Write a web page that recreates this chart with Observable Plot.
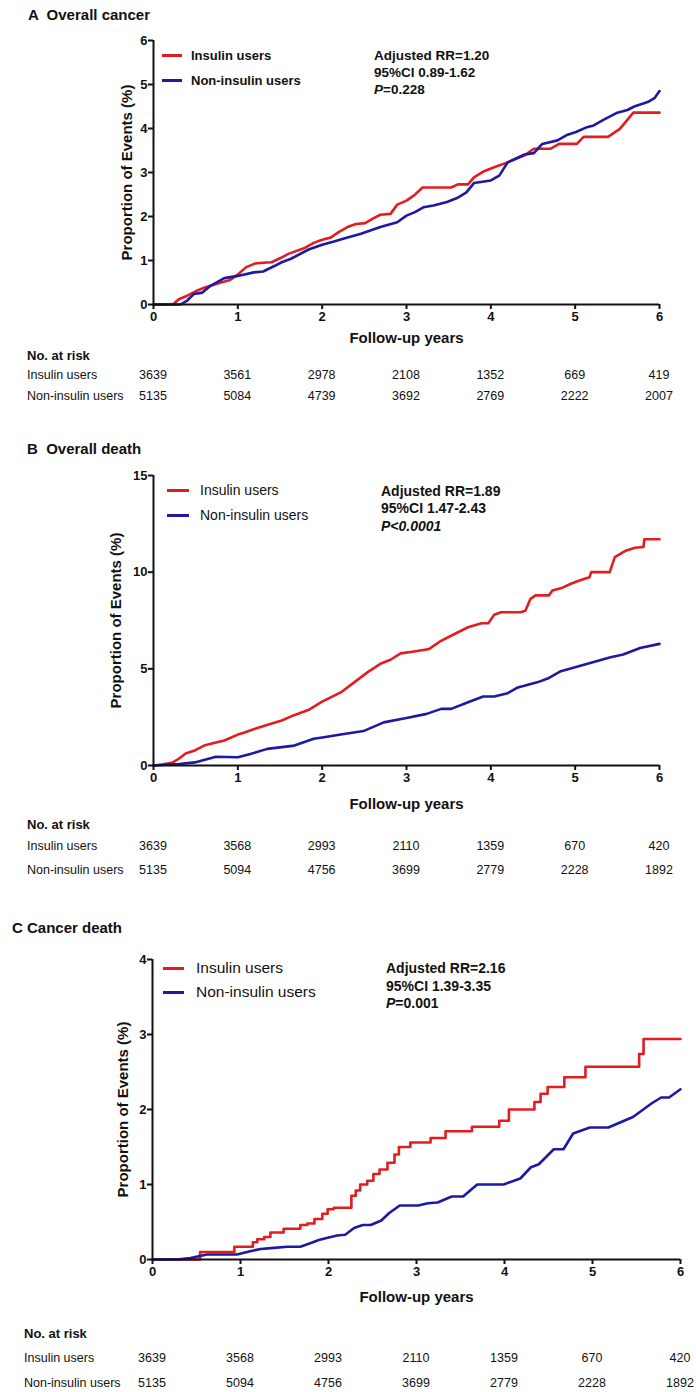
<!DOCTYPE html>
<html><head><meta charset="utf-8">
<script src="https://cdn.jsdelivr.net/npm/d3@7"></script>
<script src="https://cdn.jsdelivr.net/npm/@observablehq/plot@0.6"></script>
<style>
html,body{margin:0;padding:0;background:#fff;overflow:hidden}
#root{position:relative;width:696px;height:1392px;font-family:"Liberation Sans",Arial,sans-serif;color:#111}
.abs{position:absolute;white-space:pre;line-height:1;transform:translateY(-50%)}
.ctr{transform:translate(-50%,-50%)}
.sw{position:absolute;height:3px}
svg g[aria-label="x-axis label"], svg g[aria-label="y-axis label"]{font-size:15px;font-weight:bold}
</style>
</head><body><div id="root"></div>
<script>
// ---------- data ----------
const years = [0, 1, 2, 3, 4, 5, 6];
const groups = ["Insulin users", "Non-insulin users"];
const colors = ["#e31d1f", "#1c1aa3"];

// Panel A: overall cancer (year, %)
const aInsulin = [[0,0],[0.23,0],[0.3,0.12],[0.4,0.2],[0.5,0.3],[0.6,0.38],[0.8,0.5],[0.9,0.55],[1.0,0.68],[1.1,0.85],[1.2,0.93],[1.3,0.95],[1.4,0.96],[1.5,1.05],[1.6,1.15],[1.8,1.29],[1.9,1.4],[2.0,1.47],[2.1,1.52],[2.2,1.65],[2.3,1.76],[2.4,1.83],[2.51,1.85],[2.6,1.95],[2.69,2.04],[2.81,2.06],[2.89,2.27],[3.0,2.36],[3.09,2.48],[3.19,2.66],[3.53,2.66],[3.61,2.73],[3.73,2.73],[3.8,2.89],[3.92,3.03],[4.04,3.12],[4.2,3.23],[4.4,3.39],[4.51,3.54],[4.71,3.54],[4.81,3.65],[5.02,3.65],[5.1,3.81],[5.39,3.81],[5.53,3.99],[5.69,4.36],[6.0,4.36]];
const aNonInsulin = [[0,0],[0.32,0],[0.4,0.09],[0.48,0.24],[0.58,0.27],[0.68,0.43],[0.84,0.6],[1.0,0.65],[1.19,0.73],[1.3,0.75],[1.44,0.88],[1.52,0.96],[1.63,1.04],[1.84,1.25],[2.0,1.36],[2.14,1.43],[2.26,1.5],[2.46,1.61],[2.69,1.76],[2.89,1.87],[3.0,2.02],[3.1,2.1],[3.2,2.21],[3.32,2.25],[3.48,2.33],[3.6,2.42],[3.71,2.55],[3.8,2.76],[4.0,2.82],[4.1,2.93],[4.2,3.23],[4.4,3.41],[4.51,3.44],[4.61,3.65],[4.79,3.73],[4.91,3.86],[5.01,3.92],[5.14,4.03],[5.22,4.07],[5.34,4.2],[5.5,4.36],[5.62,4.42],[5.7,4.5],[5.86,4.6],[5.94,4.69],[6.0,4.85]];

// Panel B: overall death
const bInsulin = [[0,0],[0.1,0.05],[0.23,0.16],[0.3,0.35],[0.38,0.62],[0.49,0.78],[0.6,1.03],[0.74,1.19],[0.84,1.29],[1.0,1.6],[1.08,1.71],[1.25,1.97],[1.52,2.33],[1.66,2.59],[1.85,2.9],[2.0,3.3],[2.22,3.78],[2.38,4.3],[2.54,4.83],[2.69,5.26],[2.81,5.47],[2.93,5.8],[3.09,5.9],[3.27,6.03],[3.41,6.45],[3.57,6.8],[3.73,7.15],[3.89,7.36],[3.97,7.36],[4.04,7.8],[4.12,7.93],[4.35,7.93],[4.41,8.0],[4.47,8.62],[4.53,8.8],[4.69,8.8],[4.73,9.05],[4.85,9.2],[4.95,9.4],[5.05,9.57],[5.17,9.74],[5.19,10.0],[5.41,10.0],[5.47,10.78],[5.59,11.09],[5.71,11.26],[5.81,11.3],[5.82,11.7],[6.0,11.7]];
const bNonInsulin = [[0,0],[0.3,0.08],[0.49,0.16],[0.74,0.45],[1.0,0.43],[1.15,0.6],[1.35,0.86],[1.67,1.03],[1.9,1.38],[2.02,1.46],[2.22,1.6],[2.49,1.78],[2.73,2.23],[3.0,2.46],[3.24,2.67],[3.41,2.93],[3.53,2.93],[3.73,3.27],[3.91,3.57],[4.04,3.57],[4.2,3.74],[4.31,4.02],[4.55,4.3],[4.69,4.53],[4.83,4.88],[5.01,5.09],[5.22,5.35],[5.42,5.6],[5.57,5.74],[5.77,6.08],[6.0,6.29]];

// Panel C: cancer death
const cInsulin = [[0,0],[0.54,0.1],[0.93,0.17],[1.14,0.23],[1.19,0.27],[1.27,0.3],[1.34,0.36],[1.49,0.41],[1.68,0.46],[1.76,0.48],[1.84,0.54],[1.93,0.61],[1.99,0.67],[2.06,0.69],[2.26,0.85],[2.31,0.92],[2.36,1.0],[2.44,1.05],[2.51,1.14],[2.58,1.2],[2.67,1.29],[2.75,1.4],[2.8,1.5],[2.93,1.56],[3.16,1.62],[3.33,1.71],[3.63,1.77],[3.94,1.85],[4.05,2.0],[4.34,2.1],[4.41,2.21],[4.49,2.3],[4.68,2.43],[4.92,2.57],[5.53,2.74],[5.58,2.94],[6.0,2.94]];
const cNonInsulin = [[0,0],[0.28,0],[0.43,0.02],[0.62,0.066],[0.96,0.066],[1.11,0.11],[1.23,0.14],[1.38,0.155],[1.53,0.17],[1.68,0.17],[1.8,0.22],[1.89,0.26],[1.99,0.29],[2.1,0.32],[2.19,0.33],[2.29,0.42],[2.39,0.46],[2.48,0.46],[2.6,0.52],[2.69,0.62],[2.81,0.72],[3.02,0.72],[3.13,0.75],[3.24,0.76],[3.4,0.84],[3.53,0.84],[3.69,1.0],[3.99,1.0],[4.18,1.08],[4.3,1.23],[4.39,1.27],[4.56,1.47],[4.67,1.47],[4.78,1.68],[4.97,1.76],[5.18,1.76],[5.46,1.9],[5.67,2.08],[5.78,2.16],[5.87,2.16],[6.0,2.27]];

// Numbers at risk
const riskAInsulin = [3639, 3561, 2978, 2108, 1352, 669, 419];
const riskANonInsulin = [5135, 5084, 4739, 3692, 2769, 2222, 2007];
const riskBInsulin = [3639, 3568, 2993, 2110, 1359, 670, 420];
const riskBNonInsulin = [5135, 5094, 4756, 3699, 2779, 2228, 1892];
const riskCInsulin = [3639, 3568, 2993, 2110, 1359, 670, 420];
const riskCNonInsulin = [5135, 5094, 4756, 3699, 2779, 2228, 1892];

const titles = ["A  Overall cancer", "B  Overall death", "C Cancer death"];
const yTicksA = [0, 1, 2, 3, 4, 5, 6];
const yTicksB = [0, 5, 10, 15];
const yTicksC = [0, 1, 2, 3, 4];
const statsRR = ["Adjusted RR=1.20", "Adjusted RR=1.89", "Adjusted RR=2.16"];
const statsCI = ["95%CI 0.89-1.62", "95%CI 1.47-2.43", "95%CI 1.39-3.35"];
const statsP = ["=0.228", "<0.0001", "=0.001"];

// ---------- layout ----------
const root = document.getElementById("root");
function txt(s, x, y, style = {}, cls = "abs") {
  const d = document.createElement("div");
  d.className = cls === "ctr" ? "abs ctr" : "abs";
  d.style.left = x + "px"; d.style.top = y + "px";
  Object.assign(d.style, style);
  if (s instanceof Node) d.appendChild(s); else d.textContent = s;
  root.appendChild(d);
  return d;
}

const panels = [
  {title: titles[0], tx: 28, ty: 14, series: [aInsulin, aNonInsulin], curves: ["linear", "linear"], yDom: [0, 6], yTicks: yTicksA,
   top: 40, bottom: 304, left: 153, right: 659, yLabOff: 32, xLabOff: 38,
   leg: {x1: 162, x2: 182, tx: 191, y: [55, 80], fs: 13, fw: "bold"},
   ann: {x: 374, y: [56, 73, 90], fs: 13.5, pItalicAll: false},
   risk: [riskAInsulin, riskANonInsulin], rx: 27, ry: [355, 375, 396]},
  {title: titles[1], tx: 27, ty: 448, series: [bInsulin, bNonInsulin], curves: ["linear", "linear"], yDom: [0, 15], yTicks: yTicksB,
   top: 475, bottom: 765, left: 153, right: 659, yLabOff: 43, xLabOff: 43,
   leg: {x1: 167, x2: 189, tx: 200, y: [490, 515], fs: 14, fw: "normal"},
   ann: {x: 381, y: [491, 508, 526], fs: 14, pItalicAll: true},
   risk: [riskBInsulin, riskBNonInsulin], rx: 27, ry: [824, 846, 870]},
  {title: titles[2], tx: 12, ty: 927, series: [cInsulin, cNonInsulin], curves: ["step-after", "linear"], yDom: [0, 4], yTicks: yTicksC,
   top: 959, bottom: 1259, left: 152, right: 680, yLabOff: 35, xLabOff: 42,
   leg: {x1: 163, x2: 184, tx: 196, y: [968, 992], fs: 15.5, fw: "normal"},
   ann: {x: 386, y: [968, 986, 1003], fs: 14, pItalicAll: false},
   risk: [riskCInsulin, riskCNonInsulin], rx: 24, ry: [1333, 1358, 1383]}
];

panels.forEach((p, i) => {
  const mt = 12, mb = 60;
  const lines = p.series.map((s, k) =>
    Plot.line(s.map(([t, v]) => ({t, v, g: groups[k]})), {x: "t", y: "v", stroke: "g", strokeWidth: 2.6, curve: p.curves[k]}));
  const plot = Plot.plot({
    width: 696,
    height: (p.bottom - p.top) + mt + mb,
    marginTop: mt, marginBottom: mb,
    marginLeft: p.left, marginRight: 696 - p.right,
    style: {fontFamily: "Liberation Sans, Arial, sans-serif", fontSize: "13px", fontWeight: "bold", color: "#111", background: "transparent", overflow: "visible"},
    x: {domain: [0, 6]},
    y: {domain: p.yDom},
    color: {domain: groups, range: colors},
    marks: [
      ...lines,
      Plot.ruleY([0], {stroke: "#111", strokeWidth: 2}),
      Plot.ruleX([0], {stroke: "#111", strokeWidth: 2}),
      Plot.axisX({ticks: years, tickFormat: d => String(d), tickSize: 5, tickPadding: 2, strokeWidth: 2, stroke: "#111",
        label: "Follow-up years", labelAnchor: "center", labelOffset: p.xLabOff, labelArrow: "none"}),
      Plot.axisY({ticks: p.yTicks, tickFormat: d => String(d), tickSize: 5, tickPadding: 1, strokeWidth: 2, stroke: "#111",
        label: "Proportion of Events (%)", labelAnchor: "center", labelOffset: p.yLabOff, labelArrow: "none"})
    ]
  });
  plot.style.position = "absolute";
  plot.style.left = "0px";
  plot.style.top = (p.top - mt) + "px";
  root.appendChild(plot);

  // title
  txt(p.title, p.tx, p.ty, {fontWeight: "bold", fontSize: "15px"});

  // legend
  groups.forEach((g, k) => {
    const sw = document.createElement("div");
    sw.className = "sw";
    Object.assign(sw.style, {left: p.leg.x1 + "px", width: (p.leg.x2 - p.leg.x1) + "px", top: (p.leg.y[k] - 1.5) + "px", background: colors[k]});
    root.appendChild(sw);
    txt(g, p.leg.tx, p.leg.y[k], {fontSize: p.leg.fs + "px", fontWeight: p.leg.fw});
  });

  // statistics
  const st = {fontSize: p.ann.fs + "px", fontWeight: "bold"};
  txt(statsRR[i], p.ann.x, p.ann.y[0], st);
  txt(statsCI[i], p.ann.x, p.ann.y[1], st);
  const span = document.createElement("span");
  const pi = document.createElement("i"); pi.textContent = "P";
  span.appendChild(pi);
  if (p.ann.pItalicAll) { const r = document.createElement("i"); r.textContent = statsP[i]; span.appendChild(r); }
  else span.appendChild(document.createTextNode(statsP[i]));
  txt(span, p.ann.x, p.ann.y[2], st);

  // numbers at risk
  const xs = plot.scale("x");
  txt("No. at risk", p.rx, p.ry[0], {fontWeight: "bold", fontSize: "13px"});
  p.risk.forEach((row, k) => {
    txt(groups[k], p.rx, p.ry[k + 1], {fontSize: "12.5px"});
    row.forEach((n, j) => txt(String(n), xs.apply(years[j]), p.ry[k + 1], {fontSize: "12.5px"}, "ctr"));
  });
});
</script></body></html>
